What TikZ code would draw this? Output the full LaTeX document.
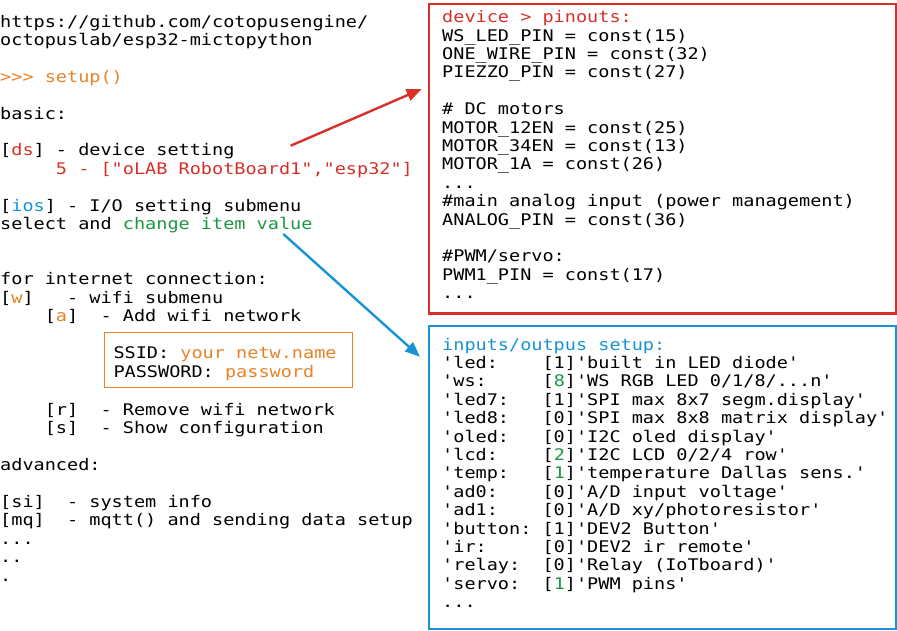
\documentclass[tikz,border=0pt]{standalone}
\usepackage{fontspec}
\usepackage{xcolor}
\usetikzlibrary{arrows.meta,calc}

\newfontfamily\codefont[FakeStretch=1.158]{DejaVu Sans Mono}

\definecolor{pinred}{RGB}{214,48,40}
\definecolor{iosblue}{RGB}{24,148,214}
\definecolor{wifiorange}{RGB}{232,130,40}
\definecolor{itemgreen}{RGB}{30,150,70}

\newcommand\gn[1]{\textcolor{itemgreen}{#1}}

% code nodes are placed by the baseline of their last line
\tikzset{
  code/.style={font=\fontsize{16}{18.4}\codefont, inner sep=0pt, anchor=base west, align=left},
  panel/.style={draw, line width=2.4pt, inner sep=0pt, anchor=north west, minimum width=467.2pt},
  link/.style={line width=2.4pt, -{Triangle[length=15pt,width=12pt]}},
}

\begin{document}
\begin{tikzpicture}[x=1pt,y=-1pt]
\useasboundingbox (0,0) rectangle (897,630);

%%%%%%%%%%%%%%%%%%%% setup menu %%%%%%%%%%%%%%%%%%%%
\node (menu) [code] at (0,321.4) {https://github.com/cotopusengine/\\
octopuslab/esp32-mictopython\\
\\
\textcolor{wifiorange}{>>> setup()}\\
\\
basic:\\
\\
{[}\textcolor{pinred}{ds}] - device setting\\
\textcolor{pinred}{~~~~~5 - ["oLAB RobotBoard1","esp32"]}\\
\\
{[}\textcolor{iosblue}{ios}] - I/O setting submenu\\
select and \textcolor{itemgreen}{change item value}\\
\\
\\
for internet connection:\\
{[}\textcolor{wifiorange}{w}]~~~- wifi submenu\\
~~~~[\textcolor{wifiorange}{a}]~~- Add wifi network};

\node (ssidbox) [draw=wifiorange, line width=0.9pt, inner sep=0pt, anchor=north west,
  minimum width=248pt, minimum height=55pt] at (104.3,332.3) {};
\node (ssid) [code] at ($(ssidbox.north west)+(9,45)$) {SSID: \textcolor{wifiorange}{your netw.name}\\
PASSWORD: \textcolor{wifiorange}{password}};

\node (menu2) [code] at (0,581) {~~~~[r]~~- Remove wifi network\\
~~~~[s]~~- Show configuration\\
\\
advanced:\\
\\
{[}si]~~- system info\\
{[}mq]~~- mqtt() and sending data setup\\
...\\
..\\
.};

%%%%%%%%%%%%%%%%%%%% pinouts %%%%%%%%%%%%%%%%%%%%
\node (pinbox) [panel, draw=pinred, minimum height=309.4pt] at (427.5,2.8) {};
\node (pins) [code] at (442,298.7) {\textcolor{pinred}{device > pinouts:}\\
WS\_LED\_PIN = const(15)\\
ONE\_WIRE\_PIN = const(32)\\
PIEZZO\_PIN = const(27)\\
\\
\# DC motors\\
MOTOR\_12EN = const(25)\\
MOTOR\_34EN = const(13)\\
MOTOR\_1A = const(26)\\
...\\
\#main analog input (power management)\\
ANALOG\_PIN = const(36)\\
\\
\#PWM/servo:\\
PWM1\_PIN = const(17)\\
...};

%%%%%%%%%%%%%%%%%%%% inputs / outputs %%%%%%%%%%%%%%%%%%%%
\node (iobox) [panel, draw=iosblue, minimum height=303pt] at (427.5,324.5) {};
\node (ios) [code] at (442,607.6) {\textcolor{iosblue}{inputs/outpus setup:}\\
'led:~~~~[1]'built in LED diode'\\
'ws:~~~~~[\gn{8}]'WS RGB LED 0/1/8/...n'\\
'led7:~~~[1]'SPI max 8x7 segm.display'\\
'led8:~~~[0]'SPI max 8x8 matrix display'\\
'oled:~~~[0]'I2C oled display'\\
'lcd:~~~~[\gn{2}]'I2C LCD 0/2/4 row'\\
'temp:~~~[\gn{1}]'temperature Dallas sens.'\\
'ad0:~~~~[0]'A/D input voltage'\\
'ad1:~~~~[0]'A/D xy/photoresistor'\\
'button:~[1]'DEV2 Button'\\
'ir:~~~~~[0]'DEV2 ir remote'\\
'relay:~~[0]'Relay (IoTboard)'\\
'servo:~~[\gn{1}]'PWM pins'\\
...};

% arrows
\coordinate (dsfrom) at (290.7,145.7);
\coordinate (iosfrom) at (283.3,234);
\draw [link, pinred] (dsfrom) -- ($(pinbox.north west)+(-5.8,86.2)$);
\draw [link, iosblue] (iosfrom) -- ($(iobox.north west)+(-7.5,32.2)$);

\end{tikzpicture}
\end{document}
